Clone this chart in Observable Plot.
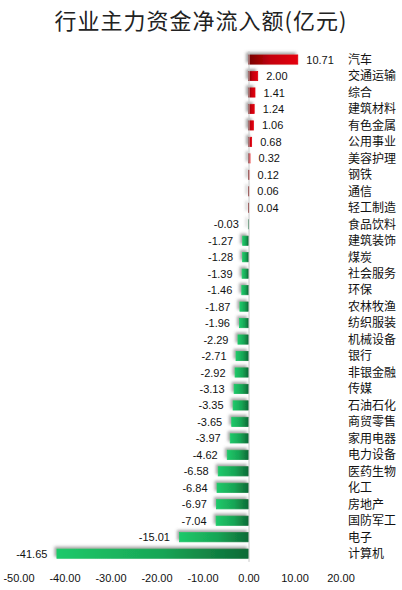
<!DOCTYPE html>
<html>
<head>
<meta charset="utf-8">
<script src="https://cdn.jsdelivr.net/npm/d3@7"></script>
<script src="https://cdn.jsdelivr.net/npm/@observablehq/plot@0.6"></script>
<style>
  html, body { margin: 0; padding: 0; background: #fff; }
  #title { width: 402px; height: 40px; line-height: 38px; text-align: center; overflow: hidden;
    font-family: "Noto Sans CJK SC", sans-serif; font-size: 22px; letter-spacing: 1px; color: #222; }
  #chart { height: 550px; }
  #chart svg { display: block; }
</style>
</head>
<body>
<div id="title">行业主力资金净流入额(亿元)</div>
<div id="chart"></div>
<script>
const categories = ["汽车","交通运输","综合","建筑材料","有色金属","公用事业","美容护理","钢铁","通信","轻工制造","食品饮料","建筑装饰","煤炭","社会服务","环保","农林牧渔","纺织服装","机械设备","银行","非银金融","传媒","石油石化","商贸零售","家用电器","电力设备","医药生物","化工","房地产","国防军工","电子","计算机"];
const values = [10.71,2.00,1.41,1.24,1.06,0.68,0.32,0.12,0.06,0.04,-0.03,-1.27,-1.28,-1.39,-1.46,-1.87,-1.96,-2.29,-2.71,-2.92,-3.13,-3.35,-3.65,-3.97,-4.62,-6.58,-6.84,-6.97,-7.04,-15.01,-41.65];
const xTicks = [-50,-40,-30,-20,-10,0,10,20];

const data = categories.map((c, i) => ({cat: c, value: values[i]}));
const pos = data.filter(d => d.value >= 0);
const neg = data.filter(d => d.value < 0);

const chart = Plot.plot({
  width: 402,
  height: 550,
  marginLeft: 18.5,
  marginRight: 61.5,
  marginTop: 11.3,
  marginBottom: 28.1,
  style: {fontFamily: "'Liberation Sans', Arial, sans-serif", fontSize: "11px", color: "#111", background: "#fff"},
  x: {domain: [-50, 20]},
  y: {domain: categories, paddingInner: 0.44, paddingOuter: 0.22, round: false},
  marks: [
    Plot.barX(pos, {x: "value", y: "cat", fill: "url(#gpos)", stroke: "url(#gpos)", strokeWidth: 0.8}),
    Plot.barX(neg, {x: "value", y: "cat", fill: "url(#gneg)", stroke: "url(#gneg)", strokeWidth: 0.8}),
    Plot.ruleX([0], {stroke: "#c8c8c8", strokeWidth: 1}),
    Plot.text(pos, {x: "value", y: "cat", text: d => d.value.toFixed(2), textAnchor: "start", dx: 8, fill: "#111", fontSize: 11}),
    Plot.text(neg, {x: "value", y: "cat", text: d => d.value.toFixed(2), textAnchor: "end", dx: -10, fill: "#111", fontSize: 11}),
    Plot.axisY({anchor: "right", tickSize: 0, tickPadding: 7, label: null, fontSize: 12,
      fontFamily: "'Noto Sans CJK SC', sans-serif"}),
    Plot.axisX({anchor: "bottom", ticks: xTicks, tickFormat: d => d.toFixed(2), tickSize: 0, tickPadding: 12, label: null, fontSize: 11})
  ]
});

const svg = d3.select(chart);
const defs = svg.insert("defs", ":first-child");
const gp = defs.append("linearGradient").attr("id", "gpos").attr("x1", 0).attr("x2", 1).attr("y1", 0).attr("y2", 0);
gp.append("stop").attr("offset", "0%").attr("stop-color", "#760000");
gp.append("stop").attr("offset", "45%").attr("stop-color", "#c4000a");
gp.append("stop").attr("offset", "100%").attr("stop-color", "#e4000f");
const gn = defs.append("linearGradient").attr("id", "gneg").attr("x1", 0).attr("x2", 1).attr("y1", 0).attr("y2", 0);
gn.append("stop").attr("offset", "0%").attr("stop-color", "#1dc96a");
gn.append("stop").attr("offset", "55%").attr("stop-color", "#18a555");
gn.append("stop").attr("offset", "100%").attr("stop-color", "#0d6a36");
const f = defs.append("filter").attr("id", "shadow").attr("x", "-20%").attr("y", "-80%").attr("width", "140%").attr("height", "260%");
f.append("feDropShadow").attr("dx", -2).attr("dy", -2).attr("stdDeviation", 1.8)
  .attr("flood-color", "#666").attr("flood-opacity", 0.6);
svg.selectAll('g[aria-label="bar"]').attr("filter", "url(#shadow)");

document.getElementById("chart").appendChild(chart);
</script>
</body>
</html>
